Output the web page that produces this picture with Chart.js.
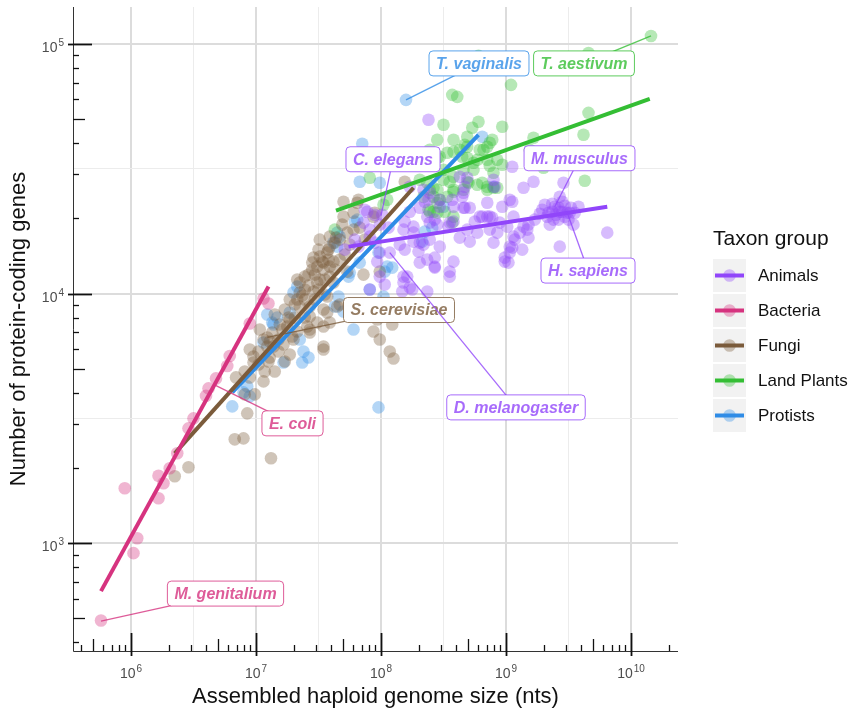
<!DOCTYPE html>
<html>
<head>
<meta charset="utf-8">
<script src="https://cdn.jsdelivr.net/npm/chart.js@4.4.1/dist/chart.umd.min.js"></script>
<style>
  html, body { margin: 0; padding: 0; background: #fff; }
  canvas { display: block; }
</style>
</head>
<body>
<canvas id="genomeChart" width="852" height="713"></canvas>
<script>
const groupNames = ['Animals', 'Bacteria', 'Fungi', 'Land Plants', 'Protists'];
const groupColors = ['#9146FA', '#D6337F', '#7B5B3B', '#34BE34', '#2F8CE6'];

// values are log10(genome size in nts) and log10(number of protein-coding genes)
const animalsLogSize = [9.39, 9.43, 9.37, 9.47, 9.51, 9.33, 9.42, 9.58, 9.29, 9.23, 9.45, 9.46, 9.43, 9.35, 9.54, 9.81, 9.43, 9.14, 9.05, 9.05,
  8.87, 9.18, 9.11, 9.07, 9.18, 9.05, 9.03, 8.99, 9.01, 8.90, 8.91, 8.38, 8.35, 8.47, 8.66, 8.71, 8.58, 8.43, 8.58, 8.75,
  8.71, 8.85, 8.87, 9.02, 9.17, 8.93, 9.13, 8.43, 8.58, 8.55, 8.55, 8.37, 9.22, 7.89, 7.95, 8.01, 7.86, 7.91, 8.06, 8.18,
  8.26, 8.39, 8.55, 8.81, 8.66, 8.31, 8.63, 8.69, 8.39, 8.34, 8.39, 8.26, 8.15, 8.19, 7.99, 8.47, 8.30, 8.31, 8.43, 8.18,
  8.23, 8.17, 8.03, 7.99, 7.91, 7.97, 7.95, 8.07, 7.79, 7.71, 9.49,
  9.03, 8.85, 8.79, 8.89, 8.95, 9.06, 9.14, 9.06, 9.03, 8.99, 8.69, 8.63, 8.54, 8.45, 8.37, 8.23, 8.19, 8.26, 8.31, 8.37,
  8.43, 8.21, 8.25, 8.18, 7.91, 7.99, 7.87, 7.82, 8.65, 8.67, 8.47, 8.57, 8.38, 8.34, 8.23, 8.67, 8.90, 8.77, 8.97,
  9.31, 9.37, 9.42, 9.47, 9.34, 9.40, 9.45, 9.52, 9.27, 9.55, 9.38, 9.50];
const animalsLogGenes = [4.348, 4.328, 4.328, 4.308, 4.324, 4.308, 4.296, 4.348, 4.336, 4.296, 4.368, 4.444, 4.388, 4.276, 4.276, 4.244, 4.188, 4.424, 4.508, 4.368,
  4.308, 4.276, 4.244, 4.216, 4.224, 4.184, 4.164, 4.144, 4.268, 4.456, 4.428, 4.696, 4.368, 4.348, 4.404, 4.344, 4.348, 4.296, 4.288, 4.288,
  4.208, 4.308, 4.256, 4.124, 4.256, 4.244, 4.176, 4.144, 4.128, 4.088, 4.068, 4.008, 4.448, 4.328, 4.316, 4.316, 4.284, 4.256, 4.264, 4.256,
  4.268, 4.284, 4.284, 4.308, 4.344, 4.344, 4.468, 4.464, 4.404, 4.196, 4.216, 4.208, 4.196, 4.176, 4.164, 4.188, 4.168, 4.124, 4.108, 4.068,
  4.024, 4.008, 4.036, 4.068, 4.016, 4.128, 4.204, 4.164, 4.216, 4.176, 4.324,
  4.376, 4.364, 4.308, 4.304, 4.284, 4.308, 4.268, 4.228, 4.188, 4.128, 4.256, 4.224, 4.268, 4.276, 4.308, 4.328, 4.288, 4.244, 4.204, 4.136,
  4.104, 4.068, 4.016, 4.044, 4.228, 4.276, 4.336, 4.188, 4.388, 4.344, 4.376, 4.376, 4.376, 4.416, 4.428, 4.428, 4.204, 4.244, 4.348,
  4.356, 4.360, 4.344, 4.352, 4.324, 4.316, 4.328, 4.344, 4.320, 4.324, 4.296, 4.296];

const bacteriaLogSize = [5.76, 5.95, 6.02, 6.05, 6.22, 6.26, 6.22, 6.31, 6.37, 6.46, 6.50, 6.60, 6.62, 6.68, 6.77, 6.79, 6.95, 7.06, 7.10];
const bacteriaLogGenes = [2.69, 3.22, 2.96, 3.02, 3.27, 3.24, 3.18, 3.30, 3.36, 3.46, 3.50, 3.59, 3.62, 3.66, 3.71, 3.75, 3.88, 3.98, 3.96];

const fungiLogSize = [6.35, 6.46, 6.83, 6.90, 7.12, 6.93, 6.84, 7.06, 6.98, 7.54, 8.07, 6.95, 7.11, 7.06, 7.13, 7.14, 6.98, 7.09, 7.18, 7.29,
  7.25, 7.35, 7.41, 7.43, 7.33, 7.39, 7.46, 7.42, 7.51, 7.49, 7.54, 7.57, 7.59, 7.62, 7.63, 7.67, 7.73, 7.51, 7.59, 7.39,
  7.46, 7.54, 7.57, 7.43, 7.54, 7.94, 7.99, 7.70, 7.78, 7.81, 7.70, 7.82, 8.19, 7.95, 7.78, 7.58, 7.97, 8.09, 7.67, 7.30,
  7.99, 7.33, 7.23, 7.27, 7.19, 7.47, 7.55, 7.63, 7.71, 7.50, 7.03, 7.15, 7.31, 7.39, 7.67, 7.75, 7.83, 7.87, 6.99, 6.91,
  7.10, 7.09,
  7.94, 7.59, 7.51, 7.45, 7.54, 7.49, 7.59, 7.35, 7.57, 7.43, 7.54, 7.65, 7.49, 7.59, 7.43, 7.73, 7.86, 8.10,
  7.22, 7.02, 7.15, 7.27, 6.91,
  7.21, 7.26, 7.31, 7.37, 7.42, 7.47, 7.53, 7.58, 7.64, 7.27, 7.35, 7.45, 7.50, 7.55, 7.62, 7.18, 7.11, 7.23, 7.33,
  7.02, 7.07, 6.95, 7.69, 7.39];
const fungiLogGenes = [3.268, 3.304, 3.416, 3.420, 3.340, 3.520, 3.664, 3.648, 3.724, 3.776, 3.768, 3.776, 3.744, 3.816, 3.844, 3.788, 3.748, 3.788, 3.816, 3.828,
  3.868, 3.948, 3.868, 3.908, 3.976, 4.016, 4.008, 4.076, 4.056, 4.108, 4.124, 4.164, 4.108, 4.044, 4.204, 4.216, 4.244, 4.216, 4.228, 4.068,
  4.144, 3.868, 3.924, 3.844, 3.788, 3.848, 3.816, 4.308, 4.324, 4.364, 4.368, 4.376, 4.448, 4.324, 4.256, 4.136, 3.896, 3.876, 3.956, 3.816,
  4.088, 4.056, 3.936, 3.896, 3.876, 3.976, 3.996, 4.096, 4.156, 4.176, 3.856, 3.916, 3.904, 3.976, 4.136, 4.196, 4.264, 4.216, 3.596, 3.596,
  3.728, 3.824,
  4.308, 4.188, 4.148, 4.124, 4.096, 4.044, 4.068, 4.004, 3.988, 3.948, 3.936, 3.948, 3.884, 3.884, 3.856, 4.088, 4.076, 3.740,
  3.796, 3.768, 3.688, 3.756, 3.688,
  3.856, 3.904, 3.956, 3.992, 4.032, 4.076, 4.128, 4.176, 4.224, 3.976, 4.044, 4.096, 4.016, 4.056, 4.128, 3.768, 3.808, 3.728, 3.848,
  3.716, 3.688, 3.664, 4.276, 3.904];

const plantsLogSize = [10.16, 9.66, 9.04, 8.78, 8.57, 8.61, 9.66, 9.62, 9.22, 8.97, 8.89, 8.85, 8.93, 8.97, 8.90, 9.19, 9.30, 9.63, 8.81, 8.90,
  8.78, 8.73, 8.50, 8.58, 8.69, 8.63, 8.47, 8.50, 8.66, 8.77, 8.55, 8.70, 8.42, 8.47, 8.58, 9.30, 8.85, 8.38, 8.45, 8.45,
  8.39, 8.67, 8.82, 8.53, 8.69, 8.74, 8.39, 8.42, 8.39, 8.58, 8.57, 7.91, 8.05, 8.87, 8.53, 7.63, 8.31,
  8.69, 8.87, 8.79, 8.58, 8.45, 8.65, 8.85, 8.74, 8.58, 8.69, 8.77, 8.50, 8.37, 8.45, 8.58, 8.66, 8.85, 8.93, 8.45, 8.42,
  8.51, 8.34, 8.02];
const plantsLogGenes = [5.032, 4.964, 4.836, 4.952, 4.796, 4.788, 4.724, 4.636, 4.624, 4.668, 4.616, 4.588, 4.536, 4.516, 4.484, 4.576, 4.536, 4.452, 4.444, 4.424,
  4.688, 4.664, 4.676, 4.616, 4.628, 4.576, 4.548, 4.496, 4.496, 4.536, 4.448, 4.444, 4.424, 4.376, 4.408, 4.504, 4.416, 4.336, 4.324, 4.616,
  4.576, 4.596, 4.576, 4.564, 4.544, 4.524, 4.416, 4.388, 4.328, 4.308, 4.284, 4.464, 4.376, 4.512, 4.388, 4.256, 4.456,
  4.588, 4.604, 4.576, 4.568, 4.544, 4.548, 4.536, 4.496, 4.468, 4.448, 4.436, 4.456, 4.444, 4.416, 4.416, 4.416, 4.428, 4.424, 4.364, 4.328,
  4.328, 4.388, 4.356];

const protistsLogSize = [8.20, 7.98, 7.85, 7.83, 7.99, 7.09, 7.13, 7.06, 6.90, 6.95, 6.81, 6.93, 7.22, 7.37, 7.42, 7.33, 7.30, 7.17, 7.14, 7.27,
  7.38, 7.66, 7.63, 7.78, 7.70, 7.74, 7.65, 7.67, 7.81, 7.83, 8.02, 8.03, 8.09, 7.91, 7.75, 8.81, 8.50, 7.65, 8.90, 8.35,
  8.33, 8.41, 7.98, 8.05, 7.79, 7.62, 7.35];
const protistsLogGenes = [4.776, 3.544, 4.600, 4.448, 4.444, 3.916, 3.884, 3.804, 3.604, 3.588, 3.548, 3.628, 3.724, 3.724, 3.744, 4.028, 4.004, 3.904, 3.876, 3.924,
  3.768, 3.988, 3.948, 3.856, 3.928, 4.068, 4.188, 4.228, 4.296, 4.124, 3.988, 4.088, 4.104, 4.016, 4.084, 4.628, 4.348, 4.244, 4.428, 4.248,
  4.208, 4.264, 4.164, 4.108, 4.288, 4.204, 3.816];

// fitted lines per group: [start, end]
const fitLogSize = [[7.74, 9.81], [5.76, 7.10], [6.35, 8.26], [7.64, 10.15], [6.81, 8.78]];
const fitLogGenes = [[4.188, 4.348], [2.808, 4.028], [3.36, 4.424], [4.332, 4.78], [3.604, 4.636]];

// highlighted species: group index, point, label position
const speciesNames = ['T. vaginalis', 'T. aestivum', 'C. elegans', 'M. musculus', 'H. sapiens', 'S. cerevisiae', 'D. melanogaster', 'E. coli', 'M. genitalium'];
const speciesGroup = [4, 3, 0, 0, 0, 2, 0, 1, 1];
const speciesPoint = [[8.20, 4.776], [10.16, 5.032], [8.00, 4.312], [9.39, 4.348], [9.49, 4.324], [7.09, 3.824], [8.07, 4.164], [6.66, 3.636], [5.76, 2.688]];
const speciesLabel = [[8.784, 4.922], [9.624, 4.922], [8.096, 4.538], [9.588, 4.542], [9.656, 4.092], [8.144, 3.934], [9.08, 3.544], [7.292, 3.48], [6.756, 2.798]];

const xTickExps = [6, 7, 8, 9, 10];
const yTickExps = [3, 4, 5];
const xGridLog = [6, 6.5, 7, 7.5, 8, 8.5, 9, 9.5, 10];
const yGridLog = [3, 3.5, 4, 4.5, 5];
const xRangeLog = [5.536, 10.376];
const yRangeLog = [2.568, 5.148];

const FONT = '"Liberation Sans", Arial, sans-serif';

function rgba(hex, a) {
  const n = parseInt(hex.slice(1), 16);
  return `rgba(${(n >> 16) & 255}, ${(n >> 8) & 255}, ${n & 255}, ${a})`;
}

const pointSets = [
  [animalsLogSize, animalsLogGenes],
  [bacteriaLogSize, bacteriaLogGenes],
  [fungiLogSize, fungiLogGenes],
  [plantsLogSize, plantsLogGenes],
  [protistsLogSize, protistsLogGenes]
];

const datasets = [];
groupNames.forEach((name, g) => {
  datasets.push({
    type: 'scatter',
    label: name,
    data: pointSets[g][0].map((v, i) => ({ x: Math.pow(10, v), y: Math.pow(10, pointSets[g][1][i]) })),
    backgroundColor: rgba(groupColors[g], 0.36),
    borderWidth: 0,
    pointRadius: 6.3,
    pointHoverRadius: 6.3,
    order: 2
  });
});
groupNames.forEach((name, g) => {
  datasets.push({
    type: 'line',
    label: name + ' fit',
    data: fitLogSize[g].map((v, i) => ({ x: Math.pow(10, v), y: Math.pow(10, fitLogGenes[g][i]) })),
    borderColor: groupColors[g],
    borderWidth: 4,
    pointRadius: 0,
    fill: false,
    order: 1
  });
});

function isMajor(value) {
  const l = Math.log10(value);
  return Math.abs(l - Math.round(l)) < 1e-6;
}

function gridScale(gridLog, range) {
  return {
    type: 'logarithmic',
    min: Math.pow(10, range[0]),
    max: Math.pow(10, range[1]),
    afterBuildTicks: s => { s.ticks = gridLog.map(v => ({ value: Math.pow(10, v) })); },
    afterFit: s => { s.width = 0; s.height = 0; },
    ticks: { display: false },
    grid: {
      drawTicks: false,
      color: ctx => (ctx.tick && isMajor(ctx.tick.value)) ? '#dcdcdc' : '#ececec',
      lineWidth: ctx => (ctx.tick && isMajor(ctx.tick.value)) ? 2 : 1
    },
    border: { display: false }
  };
}

function drawPow(ctx, exp, x, y, align) {
  ctx.font = '14px ' + FONT;
  const wb = ctx.measureText('10').width;
  ctx.font = '10px ' + FONT;
  const ws = ctx.measureText(String(exp)).width;
  const total = wb + ws + 1;
  const start = align === 'center' ? x - total / 2 : x - total;
  ctx.fillStyle = '#4d4d4d';
  ctx.textAlign = 'left';
  ctx.textBaseline = 'alphabetic';
  ctx.font = '14px ' + FONT;
  ctx.fillText('10', start, y);
  ctx.font = '10px ' + FONT;
  ctx.fillText(String(exp), start + wb + 1, y - 6);
}

const decorPlugin = {
  id: 'decor',
  beforeDatasetsDraw(chart) {
    const { ctx, chartArea: a, scales: { x, y } } = chart;
    ctx.save();
    ctx.strokeStyle = '#333';
    ctx.lineWidth = 1;
    ctx.beginPath();
    ctx.moveTo(a.left + 0.5, a.top);
    ctx.lineTo(a.left + 0.5, a.bottom + 0.5);
    ctx.lineTo(a.right, a.bottom + 0.5);
    ctx.stroke();

    // log ticks on both axes
    ctx.strokeStyle = '#111';
    for (let d = Math.floor(xRangeLog[0]); d <= Math.ceil(xRangeLog[1]); d++) {
      for (let m = 1; m <= 9; m++) {
        const l = d + Math.log10(m);
        if (l < xRangeLog[0] || l > xRangeLog[1]) continue;
        const px = Math.round(x.getPixelForValue(Math.pow(10, l))) + 0.5;
        const len = m === 1 ? 18 : (m === 5 ? 12 : 6);
        ctx.lineWidth = m === 1 ? 1.8 : 1.3;
        ctx.beginPath();
        ctx.moveTo(px, a.bottom + (m === 1 ? 5 : 0));
        ctx.lineTo(px, a.bottom - len);
        ctx.stroke();
      }
    }
    for (let d = Math.floor(yRangeLog[0]); d <= Math.ceil(yRangeLog[1]); d++) {
      for (let m = 1; m <= 9; m++) {
        const l = d + Math.log10(m);
        if (l < yRangeLog[0] || l > yRangeLog[1]) continue;
        const py = Math.round(y.getPixelForValue(Math.pow(10, l))) + 0.5;
        const len = m === 1 ? 19 : (m === 5 ? 12 : 6);
        ctx.lineWidth = m === 1 ? 1.8 : 1.3;
        ctx.beginPath();
        ctx.moveTo(a.left - (m === 1 ? 5 : 0), py);
        ctx.lineTo(a.left + len, py);
        ctx.stroke();
      }
    }
    ctx.restore();
  },
  afterDatasetsDraw(chart) {
    const { ctx, scales: { x, y } } = chart;
    ctx.save();
    ctx.font = 'italic bold 16px ' + FONT;
    speciesNames.forEach((name, i) => {
      const col = groupColors[speciesGroup[i]];
      const px = x.getPixelForValue(Math.pow(10, speciesPoint[i][0]));
      const py = y.getPixelForValue(Math.pow(10, speciesPoint[i][1]));
      const lx = x.getPixelForValue(Math.pow(10, speciesLabel[i][0]));
      const ly = y.getPixelForValue(Math.pow(10, speciesLabel[i][1]));
      const w = ctx.measureText(name).width + 14;
      const h = 25;
      ctx.strokeStyle = rgba(col, 0.8);
      ctx.lineWidth = 1.3;
      ctx.beginPath();
      ctx.moveTo(px, py);
      ctx.lineTo(lx, ly);
      ctx.stroke();
      ctx.beginPath();
      ctx.roundRect(lx - w / 2, ly - h / 2, w, h, 4);
      ctx.fillStyle = '#fff';
      ctx.fill();
      ctx.lineWidth = 1;
      ctx.stroke();
      ctx.fillStyle = rgba(col, 0.8);
      ctx.textAlign = 'center';
      ctx.textBaseline = 'middle';
      ctx.fillText(name, lx, ly + 1);
    });
    ctx.restore();
  },
  afterDraw(chart) {
    const { ctx, chartArea: a, scales: { x, y } } = chart;
    ctx.save();
    xTickExps.forEach(e => drawPow(ctx, e, x.getPixelForValue(Math.pow(10, e)), 678, 'center'));
    yTickExps.forEach(e => drawPow(ctx, e, 64, y.getPixelForValue(Math.pow(10, e)) + 8, 'right'));

    ctx.fillStyle = '#111';
    ctx.font = '22px ' + FONT;
    ctx.textAlign = 'center';
    ctx.textBaseline = 'middle';
    ctx.fillText('Assembled haploid genome size (nts)', (a.left + a.right) / 2, 697);
    ctx.save();
    ctx.translate(19, (a.top + a.bottom) / 2);
    ctx.rotate(-Math.PI / 2);
    ctx.fillText('Number of protein-coding genes', 0, 0);
    ctx.restore();

    // legend
    ctx.textAlign = 'left';
    ctx.textBaseline = 'alphabetic';
    ctx.font = '21px ' + FONT;
    ctx.fillText('Taxon group', 713, 245);
    groupNames.forEach((name, g) => {
      const top = 259 + g * 35;
      const cy = top + 16.5;
      ctx.fillStyle = '#f2f2f2';
      ctx.fillRect(713, top, 33, 33);
      ctx.strokeStyle = groupColors[g];
      ctx.lineWidth = 4;
      ctx.beginPath();
      ctx.moveTo(715, cy);
      ctx.lineTo(744, cy);
      ctx.stroke();
      ctx.fillStyle = rgba(groupColors[g], 0.36);
      ctx.beginPath();
      ctx.arc(729.5, cy, 6.3, 0, Math.PI * 2);
      ctx.fill();
      ctx.fillStyle = '#111';
      ctx.font = '17px ' + FONT;
      ctx.textBaseline = 'middle';
      ctx.fillText(name, 758, cy + 1);
      ctx.textBaseline = 'alphabetic';
    });
    ctx.restore();
  }
};

new Chart(document.getElementById('genomeChart'), {
  type: 'scatter',
  data: { datasets },
  options: {
    responsive: false,
    animation: false,
    layout: { autoPadding: false, padding: { left: 73, right: 174, top: 7, bottom: 62 } },
    plugins: { legend: { display: false }, tooltip: { enabled: false } },
    scales: {
      x: gridScale(xGridLog, xRangeLog),
      y: gridScale(yGridLog, yRangeLog)
    }
  },
  plugins: [decorPlugin]
});
</script>
</body>
</html>
